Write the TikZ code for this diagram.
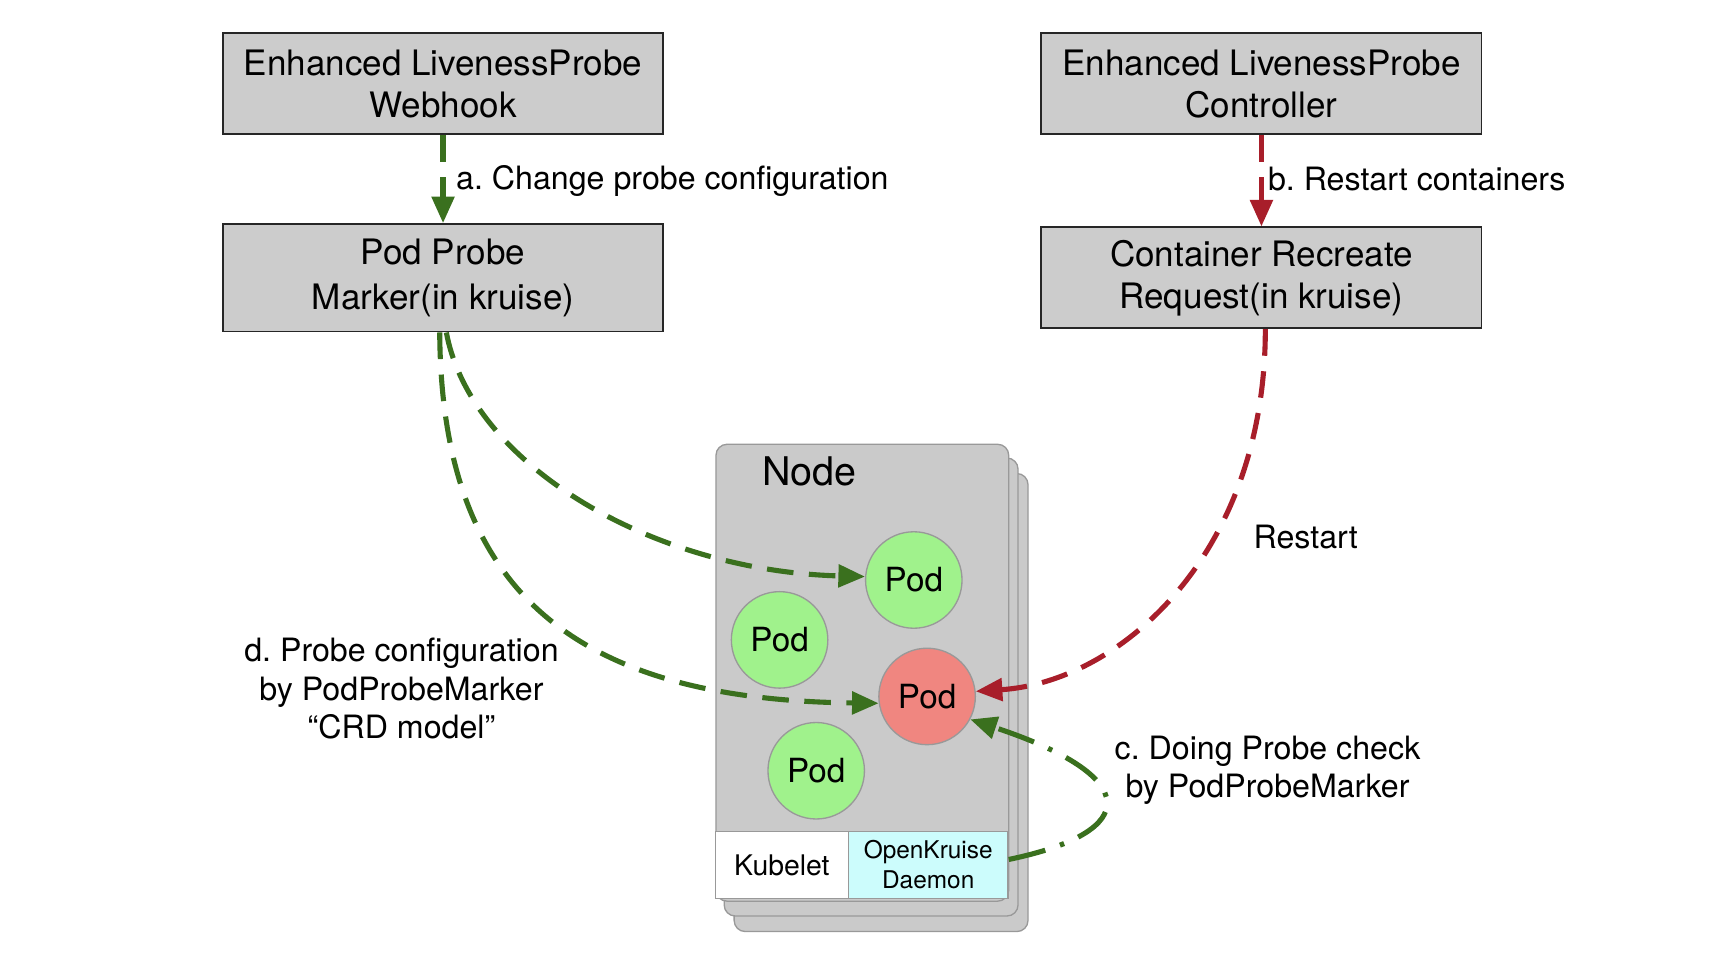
\documentclass[tikz,border=0pt]{standalone}
\usepackage{fontspec}
\setmainfont{TeX Gyre Heros}
\usetikzlibrary{arrows.meta}
\definecolor{gline}{RGB}{58,112,30}
\definecolor{rline}{RGB}{168,30,42}
\definecolor{boxgray}{RGB}{204,204,204}
\definecolor{nodegray}{RGB}{202,202,202}
\definecolor{podgreen}{RGB}{160,242,140}
\definecolor{podred}{RGB}{240,134,128}
\definecolor{daemoncyan}{RGB}{204,252,252}
\frenchspacing
\begin{document}
\begin{tikzpicture}[x=0.5pt,y=-0.5pt,
  box/.style={draw=black!85, line width=0.8pt, fill=boxgray, minimum width=198.5pt, minimum height=45.5pt, align=center, font=\fontsize{15.8}{19}\selectfont, inner sep=0pt},
  pod/.style={circle, draw=black!40, line width=0.6pt, fill=podgreen, minimum size=43.5pt, inner sep=0pt, font=\fontsize{15}{18}\selectfont},
  lbl/.style={font=\fontsize{14.5}{17.5}\selectfont, align=center, inner sep=0pt},
  tip/.style={-{Triangle[length=12pt,width=10pt]}},
  gdash/.style={draw=gline, line width=2.3pt, dash pattern=on 12pt off 7pt, tip},
  rdash/.style={draw=rline, line width=2.3pt, dash pattern=on 12pt off 7pt, tip},
  gdashdot/.style={draw=gline, line width=2.3pt, dash pattern=on 17pt off 7pt on 2pt off 7pt, tip},
  stackbox/.style={draw=black!40, line width=0.6pt, fill=nodegray, rounded corners=5pt},
  cell/.style={draw=black!40, line width=0.6pt, minimum height=30pt, inner sep=0pt, align=center},
]
\useasboundingbox (0,0) rectangle (1560,864);
\fill[white] (0,0) rectangle (1560,864);

% top boxes
\node[box] (wh) at (399.5,75.5) {Enhanced LivenessProbe\\Webhook};
\node[box] (ctl) at (1137.5,75.5) {Enhanced LivenessProbe\\Controller};
\node[box, minimum height=48.5pt, font=\fontsize{15.8}{20}\selectfont] (ppm) at (399.5,250.5) {Pod Probe\\Marker(in kruise)};
\node[box] (crr) at (1137.5,250.5) {Container Recreate\\Request(in kruise)};

% node stack
\draw[stackbox] (662,427) rectangle (927,840);
\draw[stackbox] (653,413) rectangle (918,826);
\node[stackbox, minimum width=132pt, minimum height=206pt, anchor=north west, inner sep=0pt] (nd) at (645,400) {};
\node[font=\fontsize{17.8}{20}\selectfont] (ndl) at (730,425) {Node};
\node[cell, fill=white, minimum width=60pt, font=\fontsize{12.8}{15}\selectfont] (kub) at (705,780) {Kubelet};
\node[cell, fill=daemoncyan, minimum width=72pt, font=\fontsize{11}{13.5}\selectfont] (dm) at (837,780) {OpenKruise\\Daemon};

% pods
\node[pod] (p1) at (824,523) {Pod};
\node[pod] (p2) at (703,577) {Pod};
\node[pod, fill=podred] (p3) at (836,628) {Pod};
\node[pod] (p4) at (736,695) {Pod};

% connectors
\draw[gdash] (wh.south) -- (ppm.north);
\draw[rdash] (ctl.south) -- (crr.north);
\draw[gdash] ([xshift=1.5pt]ppm.south) .. controls (425,420) and (590,515) .. (p1.176);
\draw[gdash] ([xshift=-1.5pt]ppm.south) .. controls (398,531) and (515,631) .. (p3.188);
\draw[rdash] ([xshift=1.75pt]crr.south) .. controls (1141,500) and (1010,615) .. (p3.6);
\draw[gdashdot] ([yshift=2.5pt]dm.east) .. controls (1030,750) and (1030,700) .. (p3.-28);

% labels
\node[lbl, anchor=west] (la) at (411,163) {a. Change probe configuration};
\node[lbl, anchor=west] (lb) at (1143,161) {b. Restart containers};
\node[lbl, anchor=west] (lr) at (1130,484) {Restart};
\node[lbl] (lc) at (1143,694.5) {c. Doing Probe check\\by PodProbeMarker};
\node[lbl] (ld) at (362,621) {d. Probe configuration\\by PodProbeMarker\\“CRD model”};
\end{tikzpicture}
\end{document}
